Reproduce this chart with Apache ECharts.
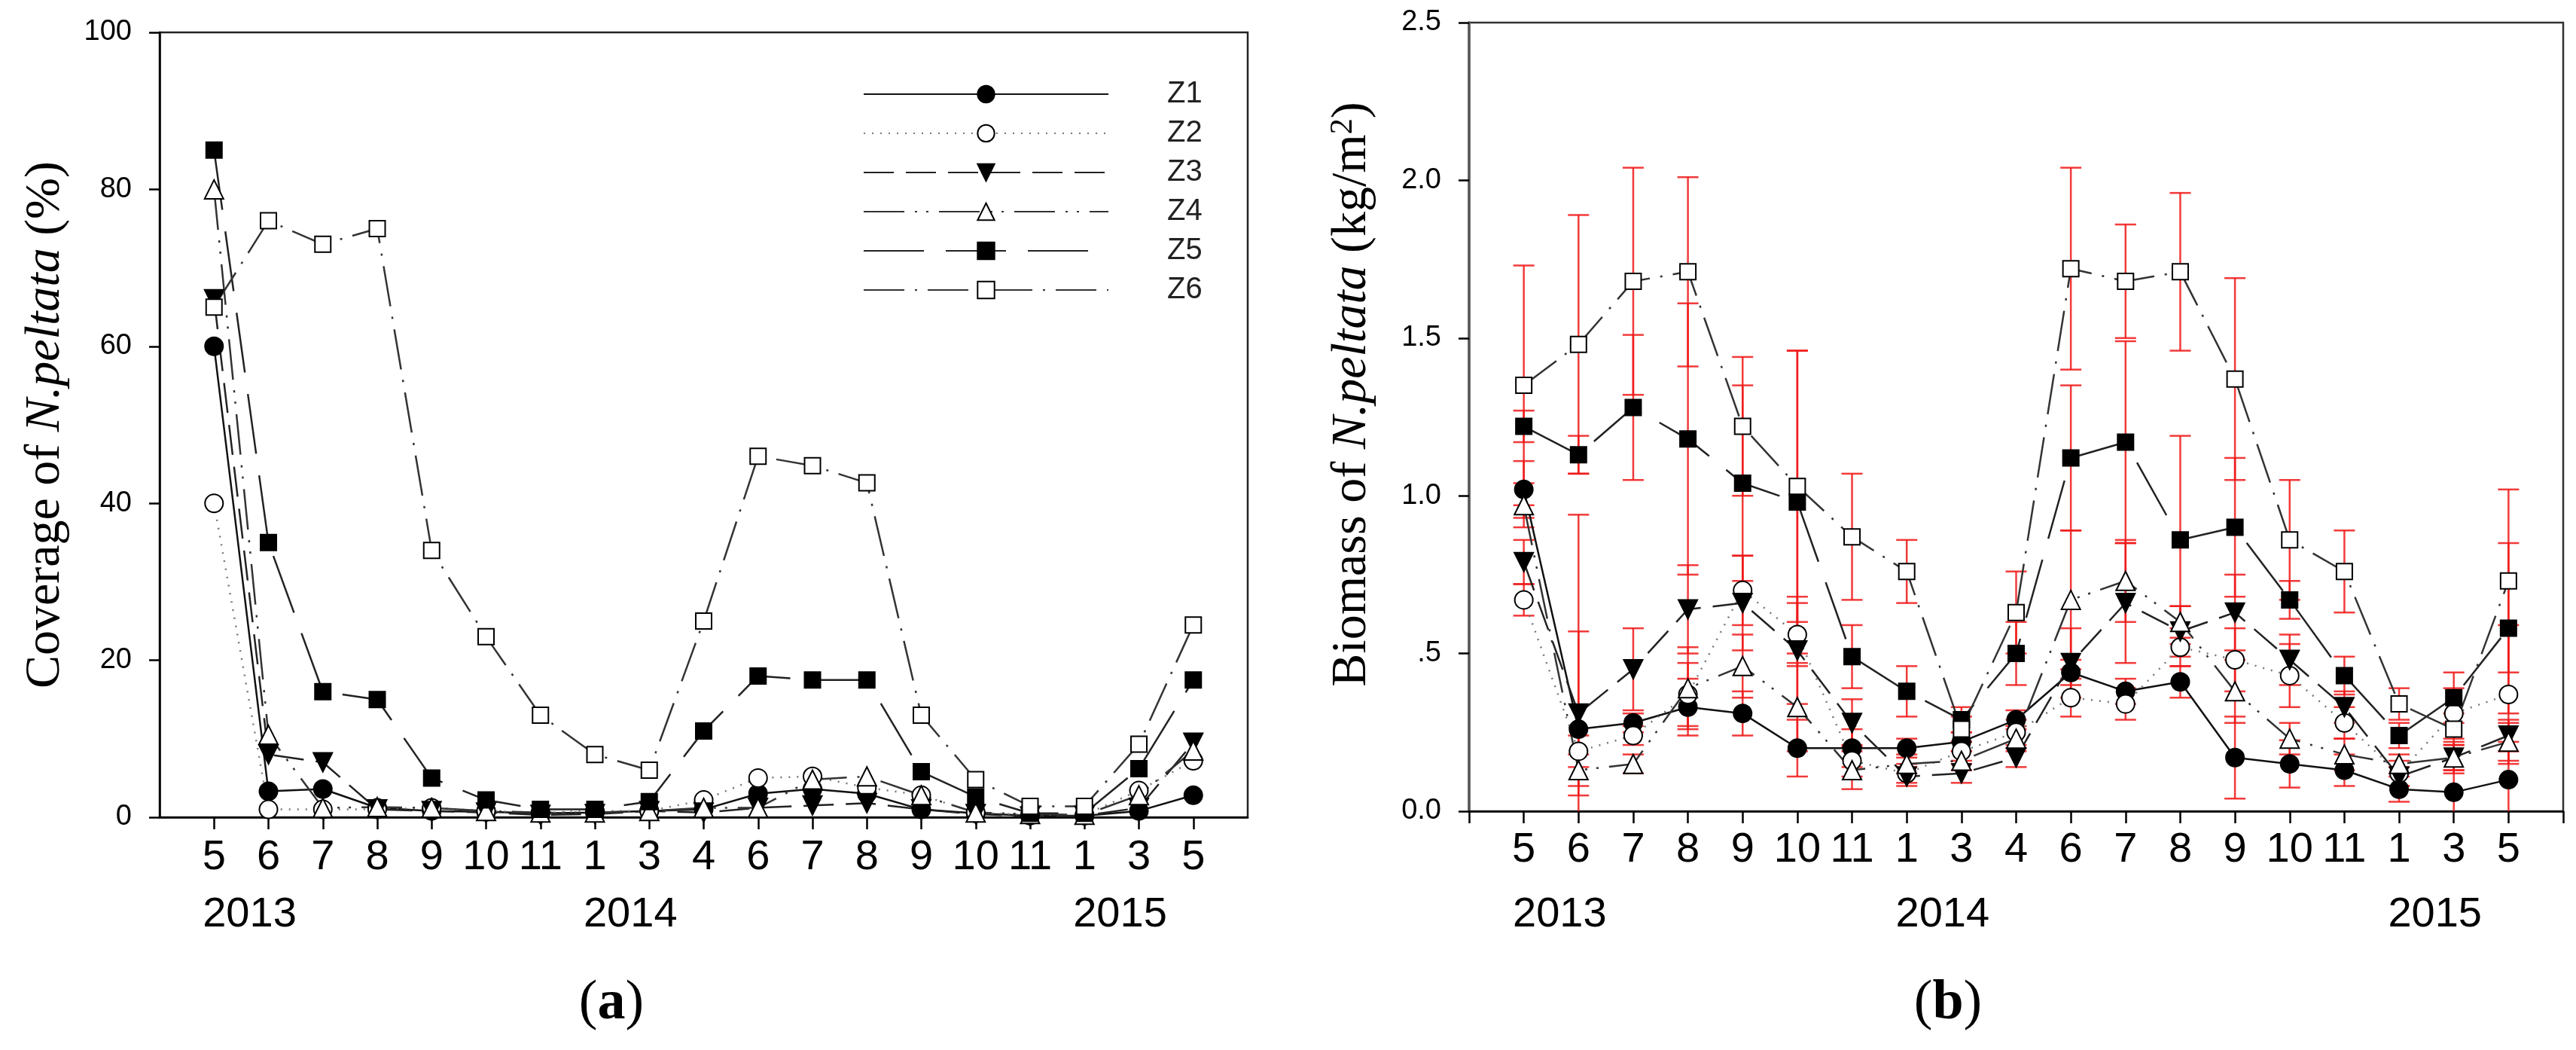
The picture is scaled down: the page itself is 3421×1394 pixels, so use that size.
<!DOCTYPE html>
<html>
<head>
<meta charset="utf-8">
<script src="https://cdn.jsdelivr.net/npm/echarts@6/dist/echarts.min.js"></script>
<style>
  html, body { margin: 0; padding: 0; background: #fff; }
  #chart { width: 3421px; height: 1394px; }
</style>
</head>
<body>
<div id="chart"></div>
<script>
// sampling months (x positions 1..19) and the year written under some of them
const months = ['5', '6', '7', '8', '9', '10', '11', '1', '3', '4', '6', '7', '8', '9', '10', '11', '1', '3', '5'];
const years = ['2013', '2014', '2015'];
const yearUnder = [2, 9, 18];

const zones = ['Z1', 'Z2', 'Z3', 'Z4', 'Z5', 'Z6'];

// (a) coverage, %
const coverZ1 = [60, 3.3, 3.6, 1.2, 0.8, 0.7, 0.5, 0.6, 0.8, 1.0, 3.0, 3.6, 3.0, 1.0, 0.5, 0.2, 0.2, 0.8, 2.8];
const coverZ2 = [40, 1.0, 1.0, 1.0, 1.2, 0.8, 0.6, 0.8, 0.8, 2.2, 5.0, 5.2, 3.8, 2.8, 0.6, 0.3, 0.3, 3.4, 7.2];
const coverZ3 = [66, 8.0, 7.0, 1.0, 0.8, 0.6, 0.3, 0.4, 0.8, 0.6, 1.2, 1.5, 1.8, 1.0, 0.4, 0.1, 0.2, 1.2, 9.5];
const coverZ4 = [80, 10.5, 1.2, 1.3, 1.2, 0.8, 0.6, 0.6, 0.8, 1.2, 1.2, 4.8, 5.2, 2.8, 0.6, 0.4, 0.3, 2.8, 8.5];
const coverZ5 = [85, 35, 16, 15, 5.0, 2.2, 1.0, 1.0, 2.0, 11, 18, 17.5, 17.5, 5.8, 2.6, 0.5, 0.5, 6.2, 17.5];
const coverZ6 = [65, 76, 73, 75, 34, 23, 13, 8.0, 6.0, 25, 46, 44.8, 42.6, 13, 4.8, 1.4, 1.4, 9.3, 24.5];

// (b) biomass, kg/m2, with error (+/-)
const bioZ1 = [1.02, 0.26, 0.28, 0.33, 0.31, 0.20, 0.20, 0.20, 0.22, 0.29, 0.44, 0.38, 0.41, 0.17, 0.15, 0.13, 0.07, 0.06, 0.10];
const bioZ2 = [0.67, 0.19, 0.24, 0.37, 0.70, 0.56, 0.16, 0.12, 0.19, 0.25, 0.36, 0.34, 0.52, 0.48, 0.43, 0.28, 0.12, 0.31, 0.37];
const bioZ3 = [0.79, 0.31, 0.45, 0.64, 0.66, 0.51, 0.28, 0.11, 0.12, 0.17, 0.47, 0.66, 0.57, 0.63, 0.48, 0.33, 0.11, 0.17, 0.24];
const bioZ4 = [0.97, 0.13, 0.15, 0.39, 0.46, 0.33, 0.13, 0.15, 0.16, 0.23, 0.67, 0.73, 0.60, 0.38, 0.23, 0.18, 0.15, 0.17, 0.22];
const bioZ5 = [1.22, 1.13, 1.28, 1.18, 1.04, 0.98, 0.49, 0.38, 0.29, 0.50, 1.12, 1.17, 0.86, 0.90, 0.67, 0.43, 0.24, 0.36, 0.58];
const bioZ6 = [1.35, 1.48, 1.68, 1.71, 1.22, 1.03, 0.87, 0.76, 0.26, 0.63, 1.72, 1.68, 1.71, 1.37, 0.86, 0.76, 0.34, 0.26, 0.73];

const bioErrZ1 = [0.09, 0.68, 0.03, 0.09, 0.07, 0.09, 0.06, 0.03, 0.03, 0.03, 0.04, 0.04, 0.05, 0.13, 0.075, 0.05, 0.04, 0.07, 0.12];
const bioErrZ2 = [0.05, 0.05, 0.03, 0.10, 0.11, 0.10, 0.05, 0.03, 0.03, 0.04, 0.06, 0.05, 0.06, 0.10, 0.10, 0.05, 0.04, 0.08, 0.22];
const bioErrZ3 = [0.07, 0.26, 0.13, 0.14, 0.15, 0.17, 0.075, 0.03, 0.03, 0.03, 0.11, 0.19, 0.08, 0.12, 0.08, 0.05, 0.03, 0.05, 0.05];
const bioErrZ4 = [0.07, 0.05, 0.03, 0.13, 0.10, 0.14, 0.06, 0.03, 0.03, 0.04, 0.22, 0.13, 0.05, 0.10, 0.05, 0.05, 0.03, 0.04, 0.06];
const bioErrZ5 = [0.05, 0.06, 0.23, 0.43, 0.31, 0.48, 0.10, 0.08, 0.04, 0.10, 0.23, 0.32, 0.33, 0.22, 0.06, 0.06, 0.04, 0.08, 0.27];
const bioErrZ6 = [0.38, 0.41, 0.36, 0.30, 0.22, 0.43, 0.20, 0.10, 0.04, 0.13, 0.32, 0.18, 0.25, 0.32, 0.19, 0.13, 0.05, 0.05, 0.29];

const coverTicks = ['0', '20', '40', '60', '80', '100'];
const bioTicks = ['0.0', '.5', '1.0', '1.5', '2.0', '2.5'];

const cover = [coverZ1, coverZ2, coverZ3, coverZ4, coverZ5, coverZ6];
const bio = [bioZ1, bioZ2, bioZ3, bioZ4, bioZ5, bioZ6];
const bioErr = [bioErrZ1, bioErrZ2, bioErrZ3, bioErrZ4, bioErrZ5, bioErrZ6];

// marker / dash look of each zone
const look = [
  { symbol: 'circle', size: 24, fill: '#000', rotate: 0, dash: 'solid', line: '#111' },
  { symbol: 'circle', size: 24, fill: '#fff', rotate: 0, dash: [2, 9], line: '#777' },
  { symbol: 'triangle', size: 25, fill: '#000', rotate: 180, dash: [40, 16], line: '#222' },
  { symbol: 'triangle', size: 25, fill: '#fff', rotate: 0, dash: [54, 14, 3, 12, 3, 14], line: '#333' },
  { symbol: 'rect', size: 21, fill: '#000', rotate: 0, dash: [80, 29], line: '#222' },
  { symbol: 'rect', size: 21, fill: '#fff', rotate: 0, dash: [54, 14, 3, 14], line: '#333' }
];

const SANS = 'Liberation Sans, Arial, sans-serif';
const SERIF = 'Liberation Serif, Times New Roman, serif';
const positions = months.map((m, i) => i + 1);

function lineSeries(name, vals, k, idx) {
  const s = look[k];
  return {
    name: name,
    type: 'line',
    xAxisIndex: idx * 2,
    yAxisIndex: idx,
    z: 3,
    data: vals.map((v, i) => [i + 1, v]),
    symbol: s.symbol,
    symbolSize: s.size,
    symbolRotate: s.rotate,
    showAllSymbol: true,
    itemStyle: { color: s.fill, borderColor: '#000', borderWidth: 2 },
    lineStyle: { color: s.line, width: 2.5, type: s.dash },
    emphasis: { disabled: true }
  };
}

function errorSeries(vals, errs) {
  return {
    type: 'custom',
    xAxisIndex: 2,
    yAxisIndex: 1,
    z: 2,
    silent: true,
    data: vals.map((v, i) => [i + 1, v - errs[i], v + errs[i]]),
    renderItem: function (params, api) {
      const x = api.value(0);
      const low = api.value(1);
      const hi = api.coord([x, api.value(2)]);
      const lo = api.coord([x, Math.max(low, 0)]);
      const w = 14;
      const style = { stroke: '#f01818', lineWidth: 2.5, opacity: 0.85 };
      const kids = [
        { type: 'line', shape: { x1: hi[0], y1: hi[1], x2: lo[0], y2: lo[1] }, style: style },
        { type: 'line', shape: { x1: hi[0] - w, y1: hi[1], x2: hi[0] + w, y2: hi[1] }, style: style }
      ];
      if (low >= 0) {
        kids.push({ type: 'line', shape: { x1: lo[0] - w, y1: lo[1], x2: lo[0] + w, y2: lo[1] }, style: style });
      }
      return { type: 'group', children: kids };
    }
  };
}

function monthAxis(grid, tickVals, margin) {
  return {
    type: 'value', gridIndex: grid, min: 0, max: 20, interval: 1,
    axisLine: { lineStyle: { color: '#000', width: 2.5 } },
    axisTick: { customValues: tickVals, length: 16, lineStyle: { color: '#000', width: 2.5 } },
    axisLabel: {
      customValues: positions,
      formatter: v => months[Math.round(v) - 1],
      fontFamily: SANS, fontSize: 56, color: '#000', margin: margin
    },
    splitLine: { show: false }
  };
}

function yearAxis(grid, margin) {
  return {
    type: 'value', gridIndex: grid, min: 0, max: 20, position: 'bottom',
    axisLine: { show: false }, axisTick: { show: false }, splitLine: { show: false },
    axisLabel: {
      customValues: yearUnder,
      formatter: v => years[yearUnder.indexOf(Math.round(v))],
      fontFamily: SANS, fontSize: 56, color: '#000', margin: margin,
      padding: [0, 50, 0, 0]
    }
  };
}

const nameRich = {
  r: { fontFamily: SERIF, fontSize: 66, color: '#000' },
  i: { fontFamily: SERIF, fontSize: 66, fontStyle: 'italic', color: '#000' },
  s: { fontFamily: SERIF, fontSize: 42, color: '#000', verticalAlign: 'top' }
};

const series = [];
zones.forEach((z, k) => series.push(lineSeries(z, cover[k], k, 0)));
zones.forEach((z, k) => series.push(errorSeries(bio[k], bioErr[k])));
zones.forEach((z, k) => series.push(lineSeries(z, bio[k], k, 1)));

const chart = echarts.init(document.getElementById('chart'), null, { renderer: 'canvas' });
chart.setOption({
  animation: false,
  backgroundColor: '#fff',
  grid: [
    { left: 212, top: 43, width: 1445, height: 1042, show: true, borderColor: '#222', borderWidth: 2.5, backgroundColor: 'transparent' },
    { left: 1951, top: 30, width: 1453, height: 1047, show: true, borderColor: '#333', borderWidth: 2.5, backgroundColor: 'transparent' }
  ],
  xAxis: [
    monthAxis(0, positions, 26),
    yearAxis(0, 102),
    monthAxis(1, positions.concat([0, 20]), 24),
    yearAxis(1, 110)
  ],
  yAxis: [
    {
      type: 'value', gridIndex: 0, min: 0, max: 100, interval: 20,
      axisLine: { show: true, lineStyle: { color: '#000', width: 2.5 } },
      axisTick: { show: true, length: 14, lineStyle: { color: '#000', width: 2.5 } },
      axisLabel: { formatter: v => coverTicks[Math.round(v / 20)], fontFamily: SANS, fontSize: 38, color: '#000', margin: 37 },
      splitLine: { show: false },
      name: '{r|Coverage of }{i|N.peltata}{r| (%)}',
      nameLocation: 'middle', nameRotate: 90, nameGap: 118,
      nameTextStyle: { rich: nameRich }
    },
    {
      type: 'value', gridIndex: 1, min: 0, max: 2.5, interval: 0.5,
      axisLine: { show: true, lineStyle: { color: '#555', width: 3.5 } },
      axisTick: { show: true, length: 14, lineStyle: { color: '#000', width: 2.5 } },
      axisLabel: { formatter: v => bioTicks[Math.round(v / 0.5)], fontFamily: SANS, fontSize: 38, color: '#000', margin: 37 },
      splitLine: { show: false },
      name: '{r|Biomass of }{i|N.peltata}{r| (kg/m}{s|2}{r|)}',
      nameLocation: 'middle', nameRotate: 90, nameGap: 122,
      nameTextStyle: { rich: nameRich, padding: [0, 0, 0, 60] }
    }
  ],
  legend: {
    data: zones,
    orient: 'vertical',
    left: 1141, top: 100,
    itemWidth: 325, itemHeight: 28, itemGap: 12,
    selectedMode: false,
    textStyle: { fontFamily: SANS, fontSize: 40, color: '#222', padding: [0, 0, 0, 73] }
  },
  graphic: [
    {
      type: 'text', x: 812, y: 1333,
      style: {
        text: '{p|(}{b|a}{p|)}', align: 'center', verticalAlign: 'middle',
        rich: { p: { fontFamily: SERIF, fontSize: 74, fill: '#000' }, b: { fontFamily: SERIF, fontSize: 74, fontWeight: 'bold', fill: '#000' } }
      }
    },
    {
      type: 'text', x: 2587, y: 1333,
      style: {
        text: '{p|(}{b|b}{p|)}', align: 'center', verticalAlign: 'middle',
        rich: { p: { fontFamily: SERIF, fontSize: 74, fill: '#000' }, b: { fontFamily: SERIF, fontSize: 74, fontWeight: 'bold', fill: '#000' } }
      }
    }
  ],
  series: series
});
</script>
</body>
</html>
